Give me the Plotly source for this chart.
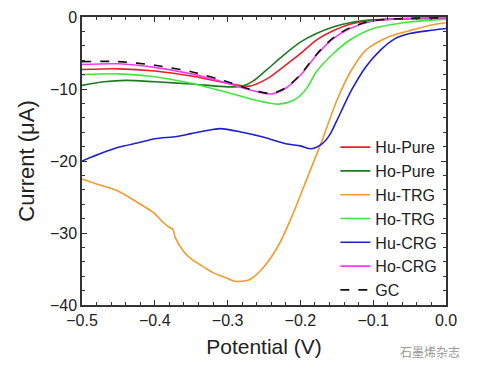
import plotly.graph_objects as go

# Potential (V) and current (uA)
hu_pure_x = [-0.5, -0.45, -0.4, -0.35, -0.3, -0.27, -0.246, -0.223, -0.2, -0.178, -0.155, -0.132, -0.109, -0.08, -0.05, 0.0]
hu_pure_y = [-7.3, -7.2, -7.5, -8.2, -9.2, -9.6, -8.6, -6.9, -5.1, -3.2, -1.9, -1.0, -0.55, -0.35, -0.25, -0.2]

ho_pure_x = [-0.5, -0.47, -0.44, -0.4, -0.35, -0.3, -0.28, -0.265, -0.246, -0.223, -0.2, -0.178, -0.155, -0.132, -0.1, -0.05, 0.0]
ho_pure_y = [-9.5, -9.0, -8.8, -9.0, -9.3, -9.7, -9.6, -8.9, -7.3, -5.3, -3.5, -2.3, -1.4, -0.8, -0.4, -0.2, -0.1]

hu_trg_x = [-0.5, -0.48, -0.45, -0.42, -0.4, -0.39, -0.38, -0.375, -0.372, -0.36, -0.35, -0.33, -0.32, -0.3, -0.29, -0.27, -0.25, -0.23, -0.21, -0.19, -0.17, -0.15, -0.13, -0.11, -0.08, -0.05, -0.02, 0.0]
hu_trg_y = [-22.5, -23.2, -24.2, -26.0, -27.3, -28.4, -29.2, -29.5, -30.6, -32.6, -33.6, -34.9, -35.5, -36.3, -36.7, -36.5, -34.7, -31.7, -27.3, -22.2, -17.1, -11.6, -7.4, -4.6, -2.8, -1.9, -1.1, -0.8]

ho_trg_x = [-0.5, -0.45, -0.4, -0.35, -0.3, -0.26, -0.23, -0.21, -0.2, -0.19, -0.178, -0.155, -0.132, -0.1, -0.05, 0.0]
ho_trg_y = [-8.0, -7.9, -8.3, -9.2, -10.5, -11.6, -12.1, -11.6, -10.9, -9.7, -7.6, -5.1, -3.2, -1.6, -0.7, -0.3]

hu_crg_x = [-0.5, -0.47, -0.45, -0.42, -0.4, -0.37, -0.35, -0.33, -0.31, -0.28, -0.25, -0.22, -0.2, -0.185, -0.17, -0.16, -0.15, -0.13, -0.11, -0.09, -0.07, -0.05, -0.02, 0.0]
hu_crg_y = [-20.0, -18.8, -18.1, -17.4, -16.9, -16.6, -16.2, -15.8, -15.5, -16.0, -16.7, -17.6, -17.9, -18.3, -17.6, -16.4, -14.4, -10.2, -6.9, -4.6, -3.0, -2.3, -1.85, -1.6]

ho_crg_x = [-0.5, -0.45, -0.4, -0.35, -0.3, -0.27, -0.24, -0.22, -0.2, -0.178, -0.155, -0.132, -0.1, -0.05, 0.0]
ho_crg_y = [-6.6, -6.5, -7.0, -7.9, -9.2, -10.1, -10.7, -9.9, -8.1, -5.3, -3.0, -1.6, -0.55, -0.2, -0.1]

gc_x = [-0.5, -0.45, -0.4, -0.35, -0.3, -0.27, -0.24, -0.22, -0.2, -0.178, -0.155, -0.132, -0.1, -0.05, 0.0]
gc_y = [-6.2, -6.2, -6.7, -7.6, -9.0, -10.0, -10.6, -9.8, -8.0, -5.2, -2.9, -1.5, -0.5, -0.2, -0.1]

series = [
    ("Hu-Pure", hu_pure_x, hu_pure_y, "#e8202a", "solid"),
    ("Ho-Pure", ho_pure_x, ho_pure_y, "#1f7a22", "solid"),
    ("Hu-TRG", hu_trg_x, hu_trg_y, "#f39a2e", "solid"),
    ("Ho-TRG", ho_trg_x, ho_trg_y, "#3ee83a", "solid"),
    ("Hu-CRG", hu_crg_x, hu_crg_y, "#1f1fd0", "solid"),
    ("Ho-CRG", ho_crg_x, ho_crg_y, "#f03cf0", "solid"),
    ("GC", gc_x, gc_y, "#111111", "dash"),
]

fig = go.Figure()
for name, xs, ys, col, dash in series:
    fig.add_trace(go.Scatter(x=xs, y=ys, name=name, mode="lines",
                             line=dict(color=col, width=1.6, dash=dash, shape="spline", smoothing=0.8)))

axis_common = dict(showline=True, linecolor="#333", linewidth=1.5, mirror="ticks",
                   ticks="inside", ticklen=5, tickwidth=1.3, tickcolor="#333",
                   showgrid=False, zeroline=False, automargin=False,
                   tickfont=dict(size=16, color="#222"),
                   minor=dict(ticks="inside", ticklen=3, tickcolor="#333"))

fig.update_xaxes(range=[-0.5, 0.0], dtick=0.1, tickformat=".1f",
                 title=dict(text="Potential (V)", font=dict(size=21, color="#222"), standoff=11),
                 **axis_common)
fig.update_yaxes(range=[-40, 0], dtick=10,
                 title=dict(text="Current (μA)", font=dict(size=22, color="#222"), standoff=9),
                 **axis_common)

fig.add_annotation(text="石墨烯杂志", xref="paper", yref="paper", x=1.044, y=-0.163,
                   xanchor="right", yanchor="middle", showarrow=False,
                   font=dict(family="Noto Sans CJK SC", size=12, color="#999"))

# the page body adds an 8px margin, so the figure is sized 8px smaller
fig.update_layout(
    width=470, height=364,
    margin=dict(l=74, r=32, t=9, b=67),
    paper_bgcolor="white", plot_bgcolor="white",
    font=dict(family="Arial, Liberation Sans, sans-serif", color="#222"),
    legend=dict(x=0.696, y=0.607, xanchor="left", yanchor="top",
                bgcolor="rgba(0,0,0,0)", font=dict(size=16, color="#222"),
                tracegroupgap=0, itemwidth=30),
    showlegend=True,
)

fig.write_html("out.html")
